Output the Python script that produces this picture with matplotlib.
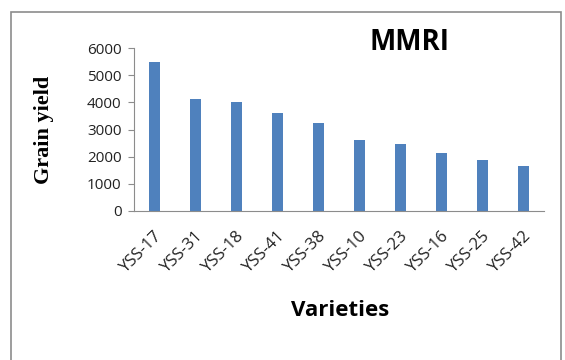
import matplotlib.pyplot as plt
from matplotlib.patches import Rectangle

# ---- DATA ----
varieties = ['YSS-17', 'YSS-31', 'YSS-18', 'YSS-41', 'YSS-38',
             'YSS-10', 'YSS-23', 'YSS-16', 'YSS-25', 'YSS-42']
grain_yield = [5500, 4130, 4000, 3620, 3240, 2630, 2450, 2150, 1860, 1640]
y_ticks = [0, 1000, 2000, 3000, 4000, 5000, 6000]

# ---- PLOT ----
fig = plt.figure(figsize=(5.65, 3.6), dpi=100)
fig.patch.set_facecolor('white')

# outer chart border
fig.patches.append(Rectangle((11 / 565, -0.05), 550 / 565, 1.017,
                             transform=fig.transFigure, fill=False,
                             edgecolor='#8c8c8c', linewidth=1.2))

ax = fig.add_axes([134 / 565, 1 - 211 / 360, 410 / 565, 163 / 360])
x = range(len(varieties))
ax.bar(x, grain_yield, width=0.28, color='#4f81bd')

ax.set_xlim(-0.5, len(varieties) - 0.5)
ax.set_ylim(0, 6000)
ax.set_yticks(y_ticks)
ax.set_yticklabels([str(v) for v in y_ticks], fontsize=11, color='#222222',
                   family='Open Sans')
ax.set_xticks(list(x))
ax.set_xticklabels(varieties, rotation=45, ha='right', rotation_mode='anchor',
                   fontsize=12, color='#222222', family='Open Sans')
ax.tick_params(axis='x', length=0, pad=12)
ax.tick_params(axis='y', length=4, color='#8c8c8c', pad=5)

for s in ['top', 'right']:
    ax.spines[s].set_visible(False)
for s in ['left', 'bottom']:
    ax.spines[s].set_color('#8c8c8c')

fig.text(44 / 565, 1 - 130 / 360, 'Grain yield', ha='center', va='center',
         rotation=90, family='Liberation Serif', fontweight='bold',
         fontsize=16)
fig.text(340 / 565, 1 - 310 / 360, 'Varieties', ha='center', va='center',
         fontsize=16, fontweight='bold', family='Open Sans')
fig.text(410 / 565, 1 - 43 / 360, 'MMRI', ha='center', va='center',
         fontsize=20, fontweight='bold', family='Open Sans')

plt.savefig('out.png', dpi=100)
